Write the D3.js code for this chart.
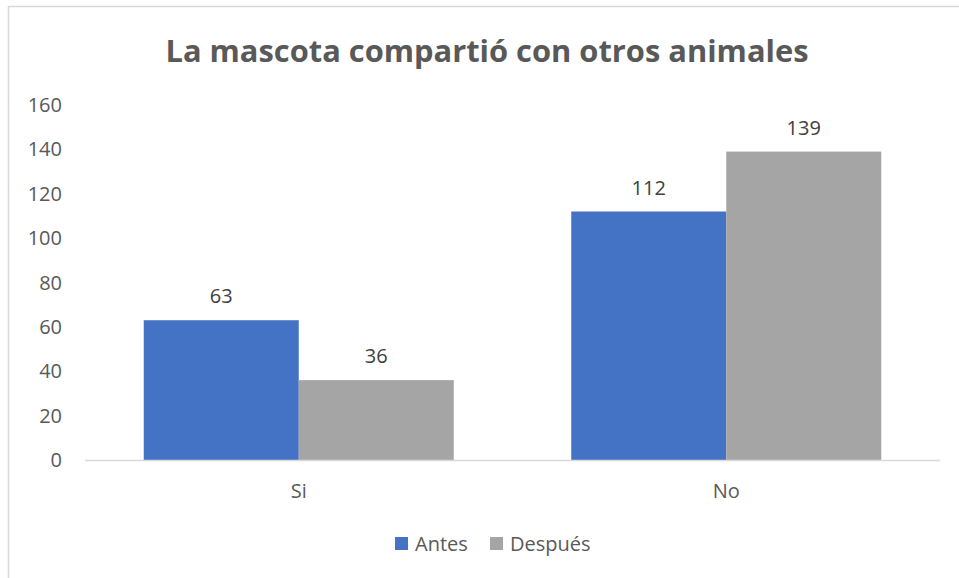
<!DOCTYPE html>
<html><head><meta charset="utf-8">
<script src="https://cdn.jsdelivr.net/npm/d3@7"></script>
<style>body{margin:0;background:#fff}svg{display:block}</style>
</head><body>
<script>
const categories = ["Si", "No"];
const seriesNames = ["Antes", "Después"];
const antes = [63, 112];
const despues = [36, 139];
const yTicks = [0, 20, 40, 60, 80, 100, 120, 140, 160];
const title = "La mascota compartió con otros animales";

const W = 959, H = 578;
const colors = ["#4472C4", "#A5A5A5"];
const font = "'Open Sans', 'Liberation Sans', sans-serif";
const svg = d3.select("body").append("svg").attr("width", W).attr("height", H);

svg.append("rect").attr("x", 8.5).attr("y", 6.5).attr("width", 960).attr("height", 580)
  .attr("fill", "#fff").attr("stroke", "#d9d9d9").attr("stroke-width", 1.5);

svg.append("text").attr("x", 487).attr("y", 62).attr("text-anchor", "middle")
  .attr("font-family", font).attr("font-weight", "bold").attr("font-size", 31)
  .attr("fill", "#595959").attr("textLength", 643).attr("lengthAdjust", "spacingAndGlyphs").text(title);

const x = d3.scaleBand().domain(categories).range([85, 940]).paddingInner(0).paddingOuter(0);
const xs = d3.scaleBand().domain(seriesNames).range([0, x.bandwidth()]).paddingInner(0).paddingOuter(0.379);
const y = d3.scaleLinear().domain([0, 160]).range([460, 105]);

// y tick labels
svg.append("g").selectAll("text").data(yTicks).join("text")
  .attr("x", 62).attr("y", d => y(d)).attr("dy", "0.35em").attr("text-anchor", "end")
  .attr("font-family", font).attr("font-size", 20).attr("fill", "#595959").text(d => d);

const seriesValues = [antes, despues];
const points = [];
categories.forEach((c, i) => seriesNames.forEach((s, j) => points.push({cat: c, ser: s, val: seriesValues[j][i], j: j})));

const barsG = svg.append("g");
barsG.selectAll("rect").data(points).join("rect")
  .attr("x", p => x(p.cat) + xs(p.ser)).attr("width", xs.bandwidth())
  .attr("y", p => y(p.val)).attr("height", p => y(0) - y(p.val)).attr("fill", p => colors[p.j]);

const lblG = svg.append("g");
lblG.selectAll("text").data(points).join("text")
  .attr("x", p => x(p.cat) + xs(p.ser) + xs.bandwidth() / 2).attr("y", p => y(p.val) - 24)
  .attr("dy", "0.35em").attr("text-anchor", "middle")
  .attr("font-family", font).attr("font-size", 20).attr("fill", "#404040")
  .text(p => String(p.val));

// axis line
svg.append("line").attr("x1", 85).attr("x2", 940).attr("y1", y(0) + 0.5).attr("y2", y(0) + 0.5)
  .attr("stroke", "#d9d9d9").attr("stroke-width", 1.5);

// category labels
svg.append("g").selectAll("text").data(categories).join("text")
  .attr("x", d => x(d) + x.bandwidth() / 2).attr("y", 491).attr("dy", "0.35em").attr("text-anchor", "middle")
  .attr("font-family", font).attr("font-size", 20).attr("fill", "#595959").text(d => d);

// legend
const legX = [395, 490];
const lg = svg.append("g").selectAll("g").data(seriesNames).join("g")
  .attr("transform", (d, i) => `translate(${legX[i]},537)`);
lg.append("rect").attr("width", 13).attr("height", 13).attr("fill", (d, i) => colors[i]);
lg.append("text").attr("x", 20).attr("y", 7).attr("dy", "0.35em")
  .attr("font-family", font).attr("font-size", 20).attr("fill", "#595959").text(d => d);
</script>
</body></html>
